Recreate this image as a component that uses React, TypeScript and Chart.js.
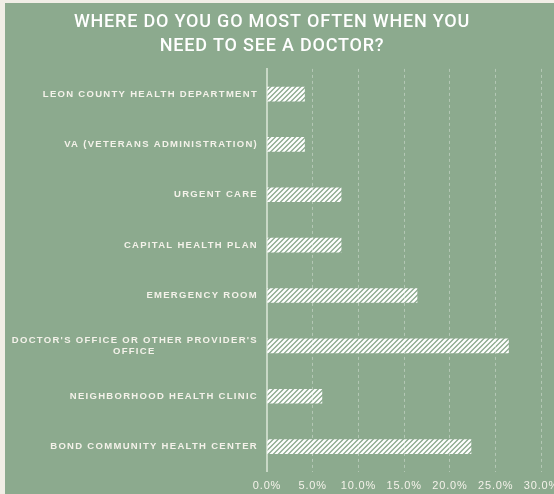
import React, { useEffect, useRef } from "react";
import { Chart, registerables, CategoryScale } from "chart.js";

Chart.register(...registerables);

class SpacedCategoryScale extends CategoryScale {
  static id = "spacedCategory";
  static defaults = CategoryScale.defaults;
  drawLabels(chartArea: any) {
    const ctx = (this as any).ctx as CanvasRenderingContext2D;
    ctx.save();
    (ctx as any).letterSpacing = "1.3px";
    super.drawLabels(chartArea);
    ctx.restore();
  }
}
Chart.register(SpacedCategoryScale);

const categories: (string | string[])[] = [
  "LEON COUNTY HEALTH DEPARTMENT",
  "VA (VETERANS ADMINISTRATION)",
  "URGENT CARE",
  "CAPITAL HEALTH PLAN",
  "EMERGENCY ROOM",
  ["DOCTOR'S OFFICE OR OTHER PROVIDER'S", "OFFICE\u00a0\u00a0\u00a0\u00a0\u00a0\u00a0\u00a0\u00a0\u00a0\u00a0\u00a0\u00a0\u00a0\u00a0\u00a0\u00a0\u00a0\u00a0\u00a0\u00a0\u00a0\u00a0\u00a0\u00a0\u00a0\u00a0"],
  "NEIGHBORHOOD HEALTH CLINIC",
  "BOND COMMUNITY HEALTH CENTER",
];
const shares: number[] = [4.1, 4.1, 8.1, 8.1, 16.4, 26.4, 6.0, 22.3];
const xTicks: number[] = [0, 5, 10, 15, 20, 25, 30];
const titleLines: string[] = ["WHERE DO YOU GO MOST OFTEN WHEN YOU", "NEED TO SEE A DOCTOR?"];

const GREEN = "#8CAA8E";
const BEIGE = "#F1EEE6";
const TEXT = "#F4F2EA";

function makeStripePattern(): CanvasPattern | string {
  const c = document.createElement("canvas");
  const s = 5;
  c.width = s;
  c.height = s;
  const g = c.getContext("2d");
  if (!g) return "#ffffff";
  g.strokeStyle = "#ffffff";
  g.lineWidth = 2.2;
  g.beginPath();
  g.moveTo(-1, s + 1);
  g.lineTo(s + 1, -1);
  g.moveTo(-1, 1);
  g.lineTo(1, -1);
  g.moveTo(s - 1, s + 1);
  g.lineTo(s + 1, s - 1);
  g.stroke();
  const ctx = document.createElement("canvas").getContext("2d");
  const p = ctx ? ctx.createPattern(c, "repeat") : null;
  return p || "#ffffff";
}

const spacingPlugin = {
  id: "textSpacing",
  beforeUpdate(chart: any) {
    chart.ctx.letterSpacing = "0.8px";
  },
  beforeDraw(chart: any) {
    chart.ctx.letterSpacing = "0.8px";
  },
};

export default function App() {
  const ref = useRef<HTMLCanvasElement | null>(null);
  useEffect(() => {
    document.body.style.margin = "0";
    document.body.style.background = BEIGE;
    document.body.style.overflow = "hidden";
    if (!ref.current) return;
    const pattern = makeStripePattern();
    const chart = new Chart(ref.current, {
      type: "bar",
      data: {
        labels: categories,
        datasets: [
          {
            data: shares,
            backgroundColor: pattern as any,
            borderWidth: 0,
            barThickness: 14,
          },
        ],
      },
      plugins: [spacingPlugin],
      options: {
        indexAxis: "y",
        animation: false,
        responsive: false,
        maintainAspectRatio: false,
        layout: { padding: { top: 8, bottom: 4, left: 0, right: 0 } },
        plugins: {
          legend: { display: false },
          tooltip: { enabled: false },
          title: {
            display: true,
            text: titleLines,
            color: "#ffffff",
            font: { family: "Roboto", size: 18, weight: 500 as any, lineHeight: 1.33 },
            padding: { top: 0, bottom: 10 },
          },
        },
        scales: {
          x: {
            type: "linear",
            min: 0,
            max: 30,
            afterBuildTicks: (scale: any) => {
              scale.ticks = xTicks.map((v) => ({ value: v }));
            },
            ticks: {
              color: TEXT,
              padding: 8,
              font: { family: "Liberation Sans", size: 11 },
              callback: (v: any) => Number(v).toFixed(1) + "%",
            },
            grid: {
              color: (c: any) => (c.tick && c.tick.value === 0 ? "rgba(0,0,0,0)" : "rgba(255,255,255,0.35)"),
              drawTicks: false,
              tickLength: 0,
              lineWidth: 1,
            },
            border: { display: false, dash: [3, 3] },
          },
          y: {
            type: "spacedCategory" as any,
            afterFit: (scale: any) => {
              scale.width = 290;
            },
            ticks: {
              color: TEXT,
              padding: 9,
              font: { family: "Liberation Sans", size: 9.5, weight: "bold" },
            },
            grid: { display: false, drawTicks: false, tickLength: 0 },
            border: { display: true, color: "rgba(225,235,222,0.7)", width: 2 },
          },
        } as any,
      },
    });
    return () => chart.destroy();
  }, []);
  return (
    <div style={{ marginLeft: 5, marginTop: 3, width: 549, height: 491, background: GREEN, overflow: "hidden" }}>
      <canvas ref={ref} width={590} height={502} style={{ display: "block", marginLeft: -28 }} />
    </div>
  );
}
